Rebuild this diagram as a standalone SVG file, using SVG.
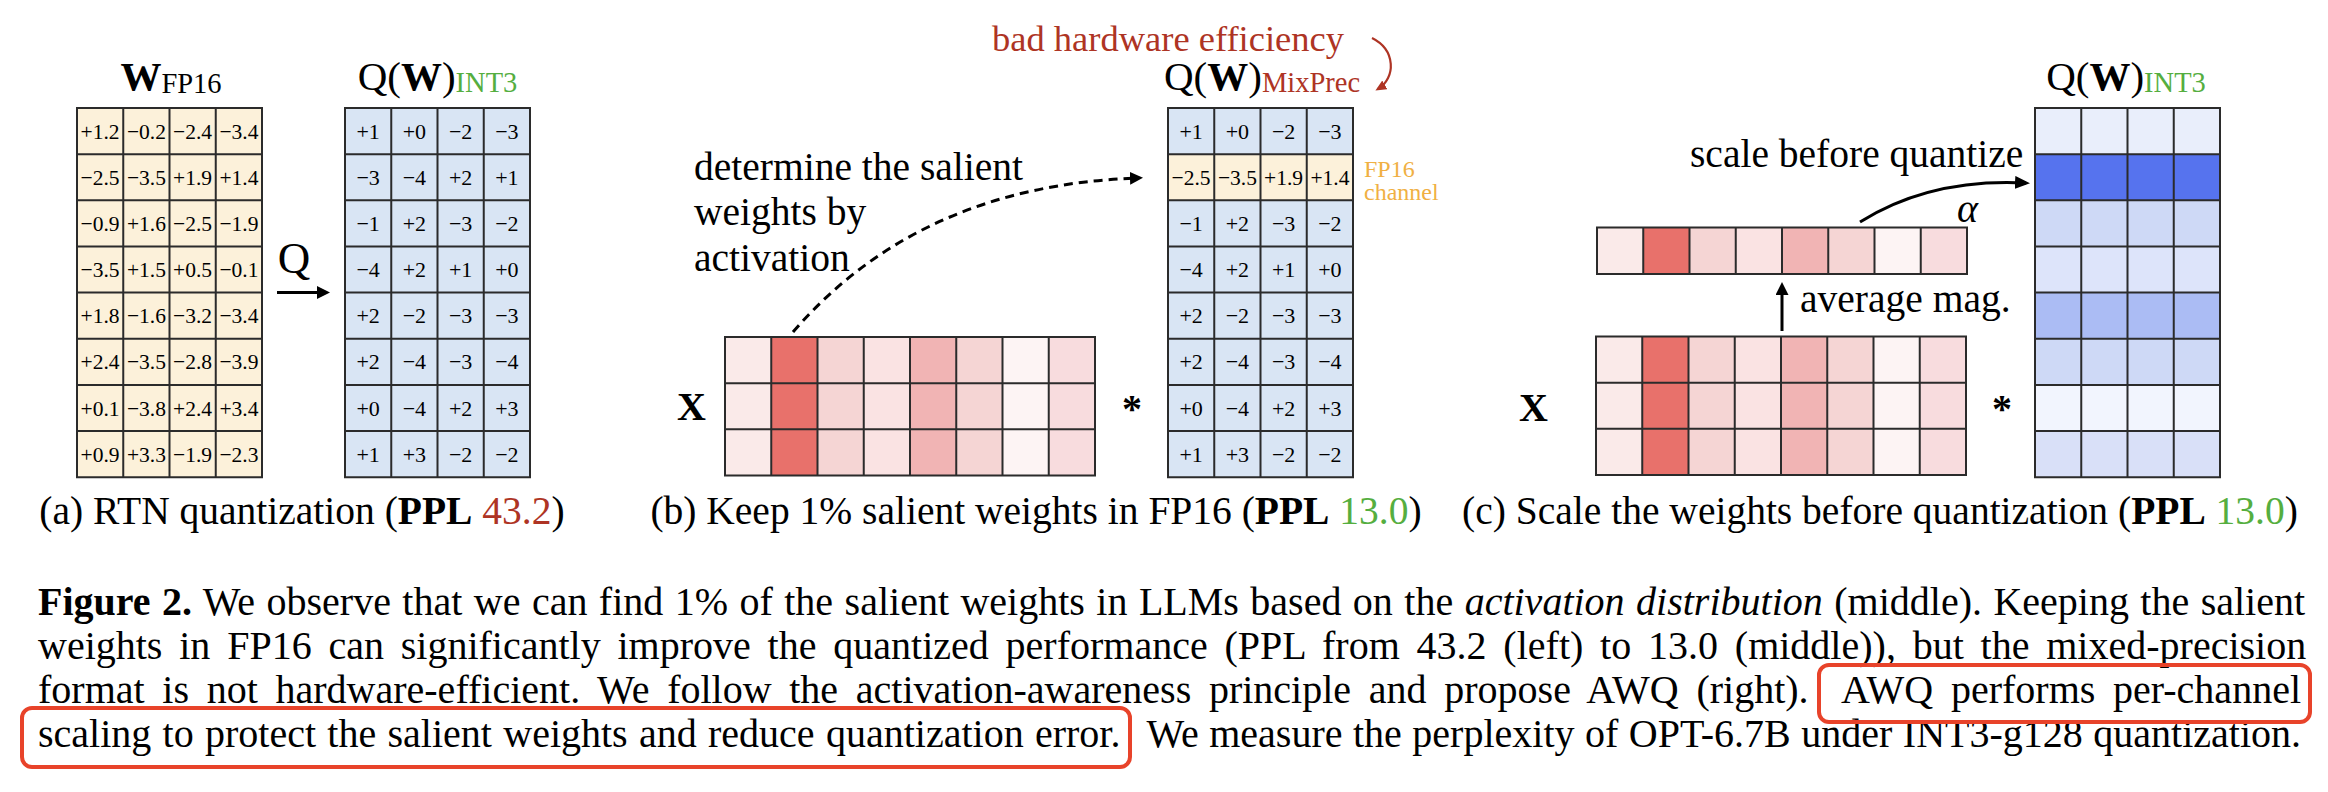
<svg xmlns="http://www.w3.org/2000/svg" xmlns:xlink="http://www.w3.org/1999/xlink" width="2328" height="792" viewBox="0 0 2328 792">
<style>
.t{font-family:"Liberation Serif","Times New Roman",serif;fill:#000}
.ttl{font-size:41px}
.sub{font-size:28.5px}
.v{font-size:21.5px;text-anchor:middle}
.vi{font-size:22px;text-anchor:middle}
.grid{fill:none;stroke:#2b2b2b;stroke-width:2}
.lbl{font-size:39.5px}
.cap{font-size:39.5px;text-anchor:middle}
.para{font-size:40px}
.red{fill:#AE3424}
.green{fill:#55AE3F}
.cream{fill:#FCF1DA}
.blue{fill:#D9E5F4}
.c1{fill:#FAEAE9}.c2{fill:#E8716B}.c3{fill:#F5D5D4}.c4{fill:#FAE3E3}.c5{fill:#F1B4B4}.c6{fill:#F5D5D4}.c7{fill:#FDF4F4}.c8{fill:#F8DCDE}
.r1{fill:#E9EEFB}.r2{fill:#5673EE}.r3{fill:#CED9F6}.r4{fill:#DDE4FA}.r5{fill:#ABBCF4}.r6{fill:#CED9F6}.r7{fill:#F2F5FE}.r8{fill:#D9E0F8}
.arr{fill:none;stroke:#000;stroke-width:3}
.box{fill:none;stroke:#E8432A;stroke-width:4}
</style>
<defs>
<path id="g48" d="M0,0H185V369.2H0Z M46.25,0V369.2 M92.5,0V369.2 M138.75,0V369.2 M0,46.15H185 M0,92.3H185 M0,138.45H185 M0,184.6H185 M0,230.75H185 M0,276.9H185 M0,323.05H185"/>
<path id="g83" d="M0,0H370V138.5H0Z M46.25,0V138.5 M92.5,0V138.5 M138.75,0V138.5 M185,0V138.5 M231.25,0V138.5 M277.5,0V138.5 M323.75,0V138.5 M0,46.17H370 M0,92.33H370"/>
<path id="g81" d="M0,0H370V46.5H0Z M46.25,0V46.5 M92.5,0V46.5 M138.75,0V46.5 M185,0V46.5 M231.25,0V46.5 M277.5,0V46.5 M323.75,0V46.5"/>
<g id="xcols">
<rect class="c1" x="0" width="46.25" height="138.5"/><rect class="c2" x="46.25" width="46.25" height="138.5"/><rect class="c3" x="92.5" width="46.25" height="138.5"/><rect class="c4" x="138.75" width="46.25" height="138.5"/><rect class="c5" x="185" width="46.25" height="138.5"/><rect class="c6" x="231.25" width="46.25" height="138.5"/><rect class="c7" x="277.5" width="46.25" height="138.5"/><rect class="c8" x="323.75" width="46.25" height="138.5"/>
</g>
<g id="qint" class="t vi">
<text y="30.6"><tspan x="23.1">+1</tspan><tspan x="69.4">+0</tspan><tspan x="115.6">−2</tspan><tspan x="161.9">−3</tspan></text>
<text y="122.9"><tspan x="23.1">−1</tspan><tspan x="69.4">+2</tspan><tspan x="115.6">−3</tspan><tspan x="161.9">−2</tspan></text>
<text y="169.0"><tspan x="23.1">−4</tspan><tspan x="69.4">+2</tspan><tspan x="115.6">+1</tspan><tspan x="161.9">+0</tspan></text>
<text y="215.2"><tspan x="23.1">+2</tspan><tspan x="69.4">−2</tspan><tspan x="115.6">−3</tspan><tspan x="161.9">−3</tspan></text>
<text y="261.3"><tspan x="23.1">+2</tspan><tspan x="69.4">−4</tspan><tspan x="115.6">−3</tspan><tspan x="161.9">−4</tspan></text>
<text y="307.5"><tspan x="23.1">+0</tspan><tspan x="69.4">−4</tspan><tspan x="115.6">+2</tspan><tspan x="161.9">+3</tspan></text>
<text y="353.6"><tspan x="23.1">+1</tspan><tspan x="69.4">+3</tspan><tspan x="115.6">−2</tspan><tspan x="161.9">−2</tspan></text>
</g>
<marker id="ah" markerUnits="userSpaceOnUse" markerWidth="16" markerHeight="14" refX="11" refY="6.5" orient="auto"><path d="M0,0 L15,6.5 L0,13 Z" fill="#000"/></marker>
<marker id="ahs" markerUnits="userSpaceOnUse" markerWidth="14" markerHeight="14" refX="9" refY="6.5" orient="auto"><path d="M0,0 L13,6.5 L0,13 Z" fill="#000"/></marker>
<marker id="ahr" markerUnits="userSpaceOnUse" markerWidth="12" markerHeight="10" refX="8" refY="5" orient="auto"><path d="M0,0 L11,5 L0,10 Z" fill="#AE3424"/></marker>
</defs>

<g id="panel-a">
<g id="w-fp16" transform="translate(77,108)">
<rect class="cream" width="185" height="369.2"/>
<use href="#g48" class="grid"/>
<g class="t v">
<text y="30.6"><tspan x="23.1">+1.2</tspan><tspan x="69.4">−0.2</tspan><tspan x="115.6">−2.4</tspan><tspan x="161.9">−3.4</tspan></text>
<text y="76.7"><tspan x="23.1">−2.5</tspan><tspan x="69.4">−3.5</tspan><tspan x="115.6">+1.9</tspan><tspan x="161.9">+1.4</tspan></text>
<text y="122.9"><tspan x="23.1">−0.9</tspan><tspan x="69.4">+1.6</tspan><tspan x="115.6">−2.5</tspan><tspan x="161.9">−1.9</tspan></text>
<text y="169.0"><tspan x="23.1">−3.5</tspan><tspan x="69.4">+1.5</tspan><tspan x="115.6">+0.5</tspan><tspan x="161.9">−0.1</tspan></text>
<text y="215.2"><tspan x="23.1">+1.8</tspan><tspan x="69.4">−1.6</tspan><tspan x="115.6">−3.2</tspan><tspan x="161.9">−3.4</tspan></text>
<text y="261.3"><tspan x="23.1">+2.4</tspan><tspan x="69.4">−3.5</tspan><tspan x="115.6">−2.8</tspan><tspan x="161.9">−3.9</tspan></text>
<text y="307.5"><tspan x="23.1">+0.1</tspan><tspan x="69.4">−3.8</tspan><tspan x="115.6">+2.4</tspan><tspan x="161.9">+3.4</tspan></text>
<text y="353.6"><tspan x="23.1">+0.9</tspan><tspan x="69.4">+3.3</tspan><tspan x="115.6">−1.9</tspan><tspan x="161.9">−2.3</tspan></text>
</g>
</g>
<text class="t" x="171" y="90" text-anchor="middle"><tspan font-weight="bold" font-size="41">W</tspan><tspan class="sub" dy="3">FP16</tspan></text>
<text class="t" x="294" y="273" text-anchor="middle" font-size="45">Q</text>

<g id="q-int3-a" transform="translate(345,108)">
<rect class="blue" width="185" height="369.2"/>
<use href="#g48" class="grid"/>
<use href="#qint"/>
<text class="t vi" y="76.7"><tspan x="23.1">−3</tspan><tspan x="69.4">−4</tspan><tspan x="115.6">+2</tspan><tspan x="161.9">+1</tspan></text>
</g>
<text class="t ttl" x="437.5" y="90" text-anchor="middle">Q(<tspan font-weight="bold">W</tspan>)<tspan class="sub green" dy="2">INT3</tspan></text>
<text class="t cap" x="302" y="524">(a) RTN quantization (<tspan font-weight="bold">PPL</tspan> <tspan class="red">43.2</tspan>)</text>
</g>

<g id="panel-b">
<text class="t" x="992" y="51" font-size="36.5" style="fill:#AE3424">bad hardware efficiency</text>
<text class="t lbl" x="694" y="180">determine the salient</text>
<text class="t lbl" x="694" y="225">weights by</text>
<text class="t lbl" x="694" y="270.5">activation</text>
<text class="t" x="677" y="420" font-size="40" font-weight="bold">X</text>
<g id="x-b" transform="translate(725,337)">
<use href="#xcols"/>
<use href="#g83" class="grid"/>
</g>
<text class="t" x="1132" y="422" font-size="40" font-weight="bold" text-anchor="middle">*</text>
<g id="q-mix" transform="translate(1168,108)">
<rect class="blue" width="185" height="369.2"/>
<rect class="cream" y="46.15" width="185" height="46.15"/>
<use href="#g48" class="grid"/>
<use href="#qint"/>
<text class="t v" y="76.7"><tspan x="23.1">−2.5</tspan><tspan x="69.4">−3.5</tspan><tspan x="115.6">+1.9</tspan><tspan x="161.9">+1.4</tspan></text>
</g>
<text class="t ttl" x="1262" y="90" text-anchor="middle">Q(<tspan font-weight="bold">W</tspan>)<tspan class="sub red" dy="2">MixPrec</tspan></text>
<text class="t" x="1364" y="177" font-size="24" style="fill:#F0B043">FP16</text>
<text class="t" x="1364" y="200" font-size="24" style="fill:#F0B043">channel</text>
<text class="t cap" x="1036" y="524">(b) Keep 1% salient weights in FP16 (<tspan font-weight="bold">PPL</tspan> <tspan class="green">13.0</tspan>)</text>
</g>

<g id="panel-c">
<text class="t lbl" x="1690" y="167">scale before quantize</text>
<text class="t" x="1957" y="222" font-size="40" font-style="italic">α</text>
<g id="avg-row" transform="translate(1597,227.5)">
<rect class="c1" x="0" width="46.25" height="46.5"/><rect class="c2" x="46.25" width="46.25" height="46.5"/><rect class="c3" x="92.5" width="46.25" height="46.5"/><rect class="c4" x="138.75" width="46.25" height="46.5"/><rect class="c5" x="185" width="46.25" height="46.5"/><rect class="c6" x="231.25" width="46.25" height="46.5"/><rect class="c7" x="277.5" width="46.25" height="46.5"/><rect class="c8" x="323.75" width="46.25" height="46.5"/>
<use href="#g81" class="grid"/>
</g>
<text class="t lbl" x="1800" y="312">average mag.</text>
<text class="t" x="1519" y="421" font-size="40" font-weight="bold">X</text>
<g id="x-c" transform="translate(1596,336.5)">
<use href="#xcols"/>
<use href="#g83" class="grid"/>
</g>
<text class="t" x="2002" y="422" font-size="40" font-weight="bold" text-anchor="middle">*</text>
<g id="q-int3-c" transform="translate(2035,108)">
<rect class="r1" y="0" width="185" height="46.15"/><rect class="r2" y="46.15" width="185" height="46.15"/><rect class="r3" y="92.3" width="185" height="46.15"/><rect class="r4" y="138.45" width="185" height="46.15"/><rect class="r5" y="184.6" width="185" height="46.15"/><rect class="r6" y="230.75" width="185" height="46.15"/><rect class="r7" y="276.9" width="185" height="46.15"/><rect class="r8" y="323.05" width="185" height="46.15"/>
<use href="#g48" class="grid"/>
</g>
<text class="t ttl" x="2126" y="90" text-anchor="middle">Q(<tspan font-weight="bold">W</tspan>)<tspan class="sub green" dy="2">INT3</tspan></text>
<text class="t cap" x="1880" y="524">(c) Scale the weights before quantization (<tspan font-weight="bold">PPL</tspan> <tspan class="green">13.0</tspan>)</text>
</g>

<g id="connectors">
<path class="arr" d="M277,292.5 H326" stroke-width="3.5" marker-end="url(#ahs)"/>
<path class="arr" d="M793,332 Q920,185 1139,178" stroke-dasharray="9 6" marker-end="url(#ahs)"/>
<path d="M1372,38 C1396,50 1396,78 1378,89" fill="none" stroke="#AE3424" stroke-width="2.2" marker-end="url(#ahr)"/>
<path class="arr" d="M1782,331 V286" marker-end="url(#ahs)"/>
<path class="arr" d="M1860,222 Q1930,178 2026,183" marker-end="url(#ah)"/>
</g>

<g id="caption">
<text class="t para" x="38" y="615" word-spacing="1.45"><tspan font-weight="bold">Figure 2.</tspan> We observe that we can find 1% of the salient weights in LLMs based on the <tspan font-style="italic">activation distribution</tspan> (middle). Keeping the salient</text>
<text class="t para" x="38" y="659" word-spacing="6.8">weights in FP16 can significantly improve the quantized performance (PPL from 43.2 (left) to 13.0 (middle)), but the mixed-precision</text>
<text class="t para" x="38" y="703" word-spacing="7.7">format is not hardware-efficient. We follow the activation-awareness principle and propose AWQ (right).</text>
<text class="t para" x="2301" y="703" word-spacing="7.7" text-anchor="end">AWQ performs per-channel</text>
<text class="t para" x="38" y="747" word-spacing="1.3">scaling to protect the salient weights and reduce quantization error.</text>
<text class="t para" x="2301" y="747" word-spacing="0.5" text-anchor="end">We measure the perplexity of OPT-6.7B under INT3-g128 quantization.</text>
<rect class="box" x="1819" y="665" width="491" height="57" rx="10"/>
<rect class="box" x="22" y="708" width="1108" height="59" rx="10"/>
</g>
</svg>
